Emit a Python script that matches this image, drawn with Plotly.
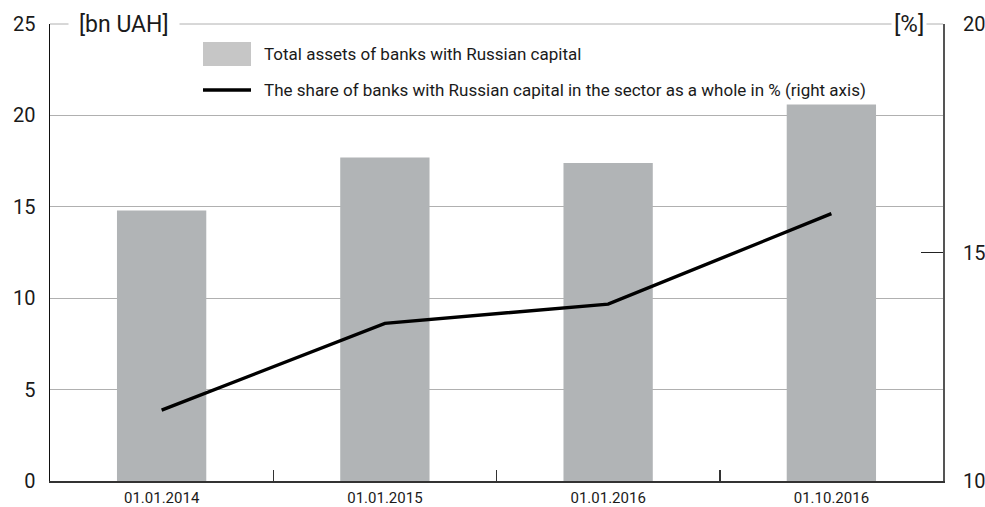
import plotly.graph_objects as go

categories = ["01.01.2014", "01.01.2015", "01.01.2016", "01.10.2016"]
assets_bn_uah = [14.8, 17.7, 17.4, 20.6]
share_pct = [11.55, 13.45, 13.87, 15.85]

bar_name = "Total assets of banks with Russian capital"
line_name = "The share of banks with Russian capital in the sector as a whole in % (right axis)"

FONT = "Roboto"
W, H = 985, 507
# plot area in page pixels
PX0, PX1, PY0, PY1 = 50, 943, 24, 481
ML, MR = PX0, W - PX1
MT, MB = PY0, H - PY1
PW = PX1 - PX0
PH = PY1 - PY0

def px(x):
    return (x - PX0) / PW

def py(y):
    return (PY1 - y) / PH

fig = go.Figure()
fig.add_trace(go.Bar(x=categories, y=assets_bn_uah, name=bar_name,
                     marker=dict(color="#b1b4b6", line=dict(width=0)),
                     width=0.40, showlegend=False))
fig.add_trace(go.Scatter(x=categories, y=share_pct, name=line_name, yaxis="y2",
                         mode="lines", line=dict(color="#000000", width=3.4),
                         showlegend=False))

shapes = [
    dict(type="line", xref="paper", yref="paper", x0=0, x1=1, y0=1, y1=1,
         line=dict(color="#b0b0b0", width=1), layer="below"),
    dict(type="rect", xref="paper", yref="paper", x0=px(203), x1=px(251),
         y0=py(66), y1=py(42), fillcolor="#c6c6c6", line=dict(width=0), layer="above"),
    dict(type="line", xref="paper", yref="paper", x0=px(203), x1=px(251),
         y0=py(90), y1=py(90), line=dict(color="#000000", width=3.4), layer="above"),
]
annotations = [
    dict(text=bar_name, xref="paper", yref="paper", x=px(262), y=py(54),
         xanchor="left", yanchor="middle", showarrow=False,
         font=dict(family=FONT, size=17, color="#1a1a1a")),
    dict(text=line_name, xref="paper", yref="paper", x=px(262), y=py(90),
         xanchor="left", yanchor="middle", showarrow=False,
         font=dict(family=FONT, size=17, color="#1a1a1a")),
    dict(text="[bn UAH]", xref="paper", yref="paper", x=px(68), y=1,
         xanchor="left", yanchor="middle", showarrow=False, bgcolor="white",
         borderpad=10, font=dict(family=FONT, size=23, color="#1a1a1a")),
    dict(text="[%]", xref="paper", yref="paper", x=px(927), y=1,
         xanchor="right", yanchor="middle", showarrow=False, bgcolor="white",
         borderpad=2, font=dict(family=FONT, size=24, color="#1a1a1a")),
]

fig.update_layout(
    width=W, height=H,
    margin=dict(l=ML, r=MR, t=MT, b=MB, pad=0, autoexpand=False),
    paper_bgcolor="white", plot_bgcolor="white",
    font=dict(family=FONT, color="#1a1a1a"),
    showlegend=False,
    xaxis=dict(type="category", showgrid=False, tickson="boundaries",
               ticks="inside", ticklen=11, tickcolor="#333", tickwidth=1.5,
               showline=True, linecolor="#333", linewidth=2, automargin=False,
               tickfont=dict(family=FONT, size=15, color="#1a1a1a"),
               ticklabelstandoff=2, zeroline=False),
    yaxis=dict(range=[0, 25], dtick=5, showgrid=True, gridcolor="#b0b0b0", gridwidth=1,
               showline=True, linecolor="#111", linewidth=1.5, ticks="", ticklen=0,
               automargin=False,
               tickfont=dict(family=FONT, size=20, color="#1a1a1a"),
               ticklabelstandoff=9, zeroline=False),
    yaxis2=dict(range=[10, 20], dtick=5, overlaying="y", side="right", showgrid=False,
                showline=True, linecolor="#555", linewidth=2, ticks="inside",
                ticklen=22, tickcolor="#222", tickwidth=1.2, automargin=False,
                tickfont=dict(family=FONT, size=20, color="#1a1a1a"),
                ticklabelstandoff=14, zeroline=False),
    shapes=shapes, annotations=annotations, bargap=0.6,
)

fig.write_html(
    "out.html",
    config={"displayModeBar": False, "staticPlot": True},
    post_script="document.body.style.margin='0';document.body.style.overflow='hidden';",
)
